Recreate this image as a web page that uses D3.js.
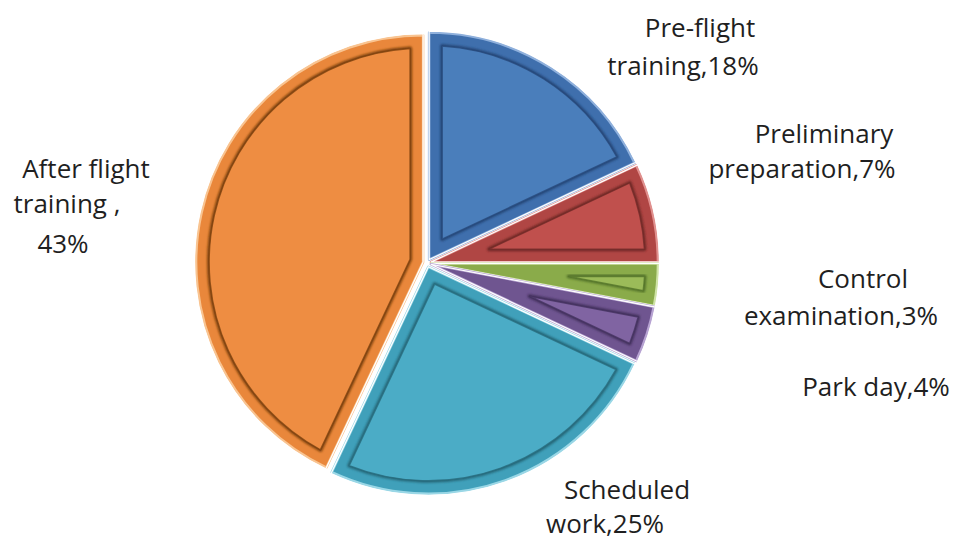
<!DOCTYPE html>
<html>
<head>
<meta charset="utf-8">
<script src="https://cdn.jsdelivr.net/npm/d3@7/dist/d3.min.js"></script>
<style>
  html, body { margin: 0; padding: 0; background: #fff; }
  svg { display: block; }
  text { font-family: "Open Sans", "Liberation Sans", sans-serif; fill: #1f1f1f; }
</style>
</head>
<body>
<svg id="chart" width="962" height="542"></svg>
<script>
// ---- data ----
const categories = ["Pre-flight training", "Preliminary preparation", "Control examination", "Park day", "Scheduled work", "After flight training"];
const values = [18, 7, 3, 4, 25, 43];
const labelLines = [
  ["Pre-flight", "training,18%"],
  ["Preliminary", "preparation,7%"],
  ["Control", "examination,3%"],
  ["Park day,4%"],
  ["Scheduled", "work,25%"],
  ["After flight", "training ,", "43%"]
];

// ---- styling / layout ----
const mainColors = ["#4a7ebb", "#c0504d", "#9bbb59", "#8064a2", "#4bacc6", "#ee8d42"];
const bandColors = ["#3f6fad", "#b04644", "#8aab4a", "#6f5590", "#40a0ba", "#e9873b"];
const edgeColors = ["#27497a", "#722a28", "#55752a", "#44325f", "#276a7c", "#7e420f"];
const rimColors  = ["#8fb0dc", "#e0908e", "#cfe3a6", "#b7a3d2", "#9ad7e6", "#f9c491"];
// per-line label placement: [centerX, baselineY]
const labelPos = [
  [[700, 37], [683, 75]],
  [[824, 143], [802, 178]],
  [[863, 288], [841, 325]],
  [[876, 396]],
  [[627, 499], [605, 533]],
  [[86, 178], [67, 213], [63, 253]]
];

const cx = 427, cy = 263, R = 227, explode = 4, bevel = 13;
const svg = d3.select("#chart");
const defs = svg.append("defs");
defs.append("filter").attr("id", "soft").attr("x", "-10%").attr("y", "-10%").attr("width", "120%").attr("height", "120%")
  .append("feGaussianBlur").attr("stdDeviation", 1.2);

const pie = d3.pie().sort(null).value(d => d).startAngle(0).endAngle(2 * Math.PI);
const arcs = pie(values);
const arcGen = d3.arc().innerRadius(0).outerRadius(R);

function pt(a, r) { return [r * Math.sin(a), -r * Math.cos(a)]; }
function insetPath(a0, a1, r, d) {
  const h = (a1 - a0) / 2, mid = (a0 + a1) / 2;
  const vd = d / Math.sin(h);
  const rr = r - d;
  const del = Math.asin(d / rr);
  const v = pt(mid, vd), p0 = pt(a0 + del, rr), p1 = pt(a1 - del, rr);
  const large = (a1 - a0 - 2 * del) > Math.PI ? 1 : 0;
  return `M${v[0]},${v[1]}L${p0[0]},${p0[1]}A${rr},${rr} 0 ${large} 1 ${p1[0]},${p1[1]}Z`;
}

const g = svg.append("g").attr("transform", `translate(${cx},${cy})`);
const slices = g.selectAll("g.slice").data(arcs).enter().append("g")
  .attr("class", "slice")
  .attr("transform", d => {
    const m = (d.startAngle + d.endAngle) / 2;
    const p = pt(m, explode);
    return `translate(${p[0]},${p[1]})`;
  });

// outer body (bevel band)
slices.append("path")
  .attr("d", arcGen)
  .attr("fill", (d, i) => bandColors[i])
  .attr("stroke", (d, i) => rimColors[i])
  .attr("stroke-width", 2.5)
  .attr("stroke-linejoin", "round");
// white outline
slices.append("path")
  .attr("d", d3.arc().innerRadius(0).outerRadius(R + 1.5))
  .attr("fill", "none")
  .attr("stroke", "#ffffff")
  .attr("stroke-width", 1.2);
// soft dark edge of inner face
slices.append("path")
  .attr("d", d => insetPath(d.startAngle, d.endAngle, R, bevel))
  .attr("fill", "none")
  .attr("stroke", (d, i) => edgeColors[i])
  .attr("stroke-width", 4)
  .attr("stroke-linejoin", "round")
  .attr("filter", "url(#soft)");
// inner face
slices.append("path")
  .attr("d", d => insetPath(d.startAngle, d.endAngle, R, bevel))
  .attr("fill", (d, i) => mainColors[i])
  .attr("stroke", (d, i) => edgeColors[i])
  .attr("stroke-width", 1.5)
  .attr("stroke-opacity", 0.8)
  .attr("stroke-linejoin", "round");

// labels
const lab = svg.append("g");
labelLines.forEach((lines, i) => {
  lines.forEach((line, j) => {
    const p = labelPos[i][j];
    lab.append("text")
      .attr("x", p[0]).attr("y", p[1])
      .attr("text-anchor", "middle")
      .attr("font-size", 26)
      .text(line);
  });
});
</script>
</body>
</html>
